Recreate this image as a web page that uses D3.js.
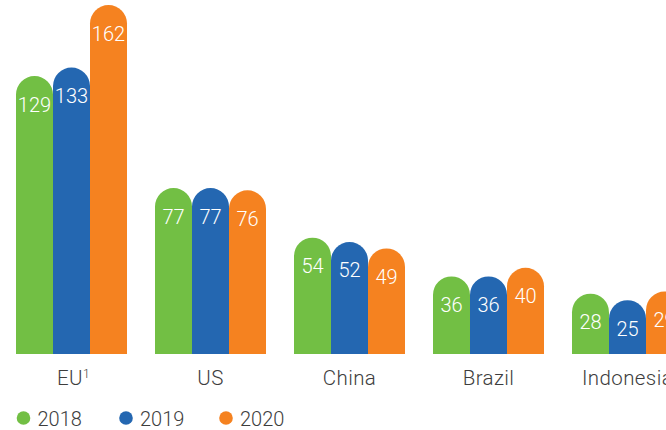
<!DOCTYPE html>
<html>
<head>
<meta charset="utf-8">
<script src="https://cdn.jsdelivr.net/npm/d3@7/dist/d3.min.js"></script>
<style>
  html, body { margin: 0; padding: 0; background: #ffffff; }
  svg { display: block; }
</style>
</head>
<body>
<svg id="chart" width="666" height="430"></svg>
<script>
const categories = ["EU", "US", "China", "Brazil", "Indonesia"];
const categorySup = ["1", "", "", "", ""];
const years = ["2018", "2019", "2020"];
const values2018 = [129, 77, 54, 36, 28];
const values2019 = [133, 77, 52, 36, 25];
const values2020 = [162, 76, 49, 40, 29];
const colors = ["#72bf44", "#2467b1", "#f58220"];

const series = [values2018, values2019, values2020];
const svg = d3.select("#chart");

const x0 = d3.scaleBand().domain(categories).range([16, 683]).paddingInner(28 / 139).paddingOuter(0);
const x1 = d3.scaleBand().domain(years).range([0, x0.bandwidth()]).padding(0);
const y = d3.scaleLinear().domain([0, 162]).range([354, 5]);

const font = "Roboto, 'Helvetica Neue', Arial, sans-serif";

function capPath(x, w, top, bottom) {
  const r = w / 2;
  const t = Math.min(top + r, bottom);
  return `M${x},${bottom}V${t}A${r},${r} 0 0 1 ${x + w},${t}V${bottom}Z`;
}

const bars = [];
categories.forEach((c, i) => {
  years.forEach((yr, j) => {
    bars.push({ cat: c, year: yr, j, value: series[j][i] });
  });
});

const g = svg.append("g");
g.selectAll("path.bar").data(bars).join("path")
  .attr("class", "bar")
  .attr("d", d => capPath(x0(d.cat) + x1(d.year), x1.bandwidth(), y(d.value), y(0)))
  .attr("fill", d => colors[d.j]);

g.selectAll("text.val").data(bars).join("text")
  .attr("class", "val")
  .attr("x", d => x0(d.cat) + x1(d.year) + x1.bandwidth() / 2)
  .attr("y", d => y(d.value) + 35.5)
  .attr("text-anchor", "middle")
  .attr("fill", "#ffffff")
  .attr("font-family", font)
  .attr("font-weight", 300)
  .attr("font-size", 20)
  .text(d => d.value);

// category labels
const cl = svg.selectAll("text.cat").data(categories).join("text")
  .attr("class", "cat")
  .attr("x", (d, i) => x0(d) + x0.bandwidth() / 2 + (categorySup[i] ? 2 : 0))
  .attr("y", 385)
  .attr("text-anchor", "middle")
  .attr("fill", "#3d3d3d")
  .attr("font-family", font)
  .attr("font-weight", 300)
  .attr("font-size", 20.5)
  .attr("letter-spacing", 0.4);
cl.append("tspan").text(d => d);
cl.append("tspan")
  .attr("font-size", 12)
  .attr("dy", -7)
  .text((d, i) => categorySup[i]);

// legend
const legendX = [23.5, 126, 226];
const lg = svg.selectAll("g.leg").data(years).join("g")
  .attr("class", "leg")
  .attr("transform", (d, i) => `translate(${legendX[i]},418)`);
lg.append("circle").attr("r", 6.8).attr("fill", (d, i) => colors[i]);
lg.append("text")
  .attr("x", 14)
  .attr("y", 7.5)
  .attr("fill", "#3d3d3d")
  .attr("font-family", font)
  .attr("font-weight", 300)
  .attr("font-size", 20)
  .text(d => d);
</script>
</body>
</html>
